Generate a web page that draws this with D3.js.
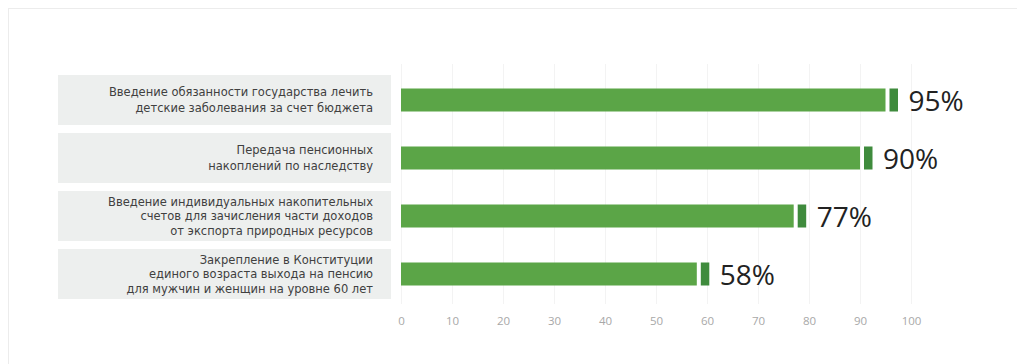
<!DOCTYPE html>
<html><head><meta charset="utf-8">
<script src="https://cdn.jsdelivr.net/npm/d3@7"></script>
<style>
html,body{margin:0;padding:0;background:#fff;}
svg{display:block;font-family:"Open Sans",sans-serif;}
</style></head>
<body>
<svg id="chart" width="1017" height="364"></svg>
<script>
const categories = [
  ["Введение обязанности государства лечить", "детские заболевания за счет бюджета"],
  ["Передача пенсионных", "накоплений по наследству"],
  ["Введение индивидуальных накопительных", "счетов для зачисления части доходов", "от экспорта природных ресурсов"],
  ["Закрепление в Конституции", "единого возраста выхода на пенсию", "для мужчин и женщин на уровне 60 лет"]
];
const values = [95, 90, 77, 58];
const valueLabels = ["95%", "90%", "77%", "58%"];
const ticks = [0, 10, 20, 30, 40, 50, 60, 70, 80, 90, 100];

const svg = d3.select("#chart");

// card border
svg.append("rect").attr("x", 8.5).attr("y", 8.5).attr("width", 1030).attr("height", 370)
  .attr("fill", "#fff").attr("stroke", "#ececec");

const x = d3.scaleLinear().domain([0, 100]).range([401, 911]);
const y = d3.scaleBand().domain(d3.range(categories.length)).range([71, 303]).paddingInner(0);

// grid
svg.append("g").selectAll("line").data(ticks).join("line")
  .attr("x1", d => x(d) + 0.5).attr("x2", d => x(d) + 0.5)
  .attr("y1", 64).attr("y2", 304)
  .attr("stroke", "#f3f3f3").attr("stroke-width", 1);

// axis
const axis = d3.axisBottom(x).tickValues(ticks).tickSize(0).tickPadding(0);
const ax = svg.append("g").attr("transform", "translate(0,317)").call(axis);
ax.select(".domain").remove();
ax.selectAll("text").attr("fill", "#a8a8a8").attr("font-size", 11.5)
  .attr("font-family", "Open Sans, sans-serif");

// label boxes
const lab = svg.append("g");
categories.forEach((lines, i) => {
  const y0 = y(i);
  lab.append("rect").attr("x", 58).attr("y", y0 + 4).attr("width", 333).attr("height", y.bandwidth() - 8)
    .attr("fill", "#edefee");
  const lh = lines.length === 2 ? 16.5 : 14.5;
  const cy = y0 + y.bandwidth() / 2;
  lines.forEach((t, j) => {
    lab.append("text").attr("x", 373).attr("y", cy + (j - (lines.length - 1) / 2) * lh)
      .attr("dy", "0.36em").attr("text-anchor", "end")
      .attr("font-family", "DejaVu Sans, sans-serif")
      .attr("font-size", 11.5).attr("fill", "#404040").text(t);
  });
});

// bars
const bh = 23;
const g = svg.append("g");
g.selectAll("rect.main").data(values).join("rect").attr("class", "main")
  .attr("x", x(0)).attr("y", (d, i) => y(i) + y.bandwidth() / 2 - bh / 2)
  .attr("width", d => x(d) - x(0)).attr("height", bh).attr("fill", "#5ba547");
g.selectAll("rect.cap").data(values).join("rect").attr("class", "cap")
  .attr("x", d => x(d) + 4).attr("y", (d, i) => y(i) + y.bandwidth() / 2 - bh / 2)
  .attr("width", 8.5).attr("height", bh).attr("fill", "#3f8b3d");
g.selectAll("text.val").data(values).join("text").attr("class", "val")
  .attr("x", d => x(d) + 23).attr("y", (d, i) => y(i) + y.bandwidth() / 2)
  .attr("dy", "0.38em").attr("font-size", 28).attr("fill", "#222")
  .text((d, i) => valueLabels[i]);
</script>
</body></html>
